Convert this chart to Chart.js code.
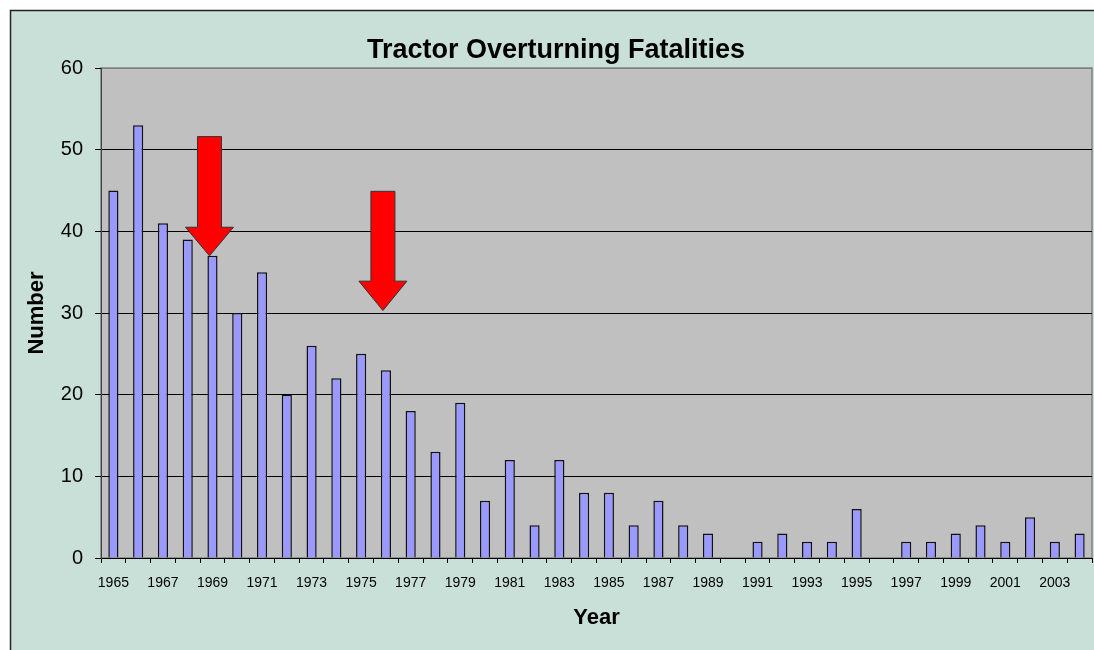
<!DOCTYPE html>
<html>
<head>
<meta charset="utf-8">
<script src="https://cdn.jsdelivr.net/npm/chart.js@4/dist/chart.umd.min.js"></script>
<style>
  html, body { margin: 0; padding: 0; background: #ffffff; }
  #wrap { width: 1094px; height: 650px; position: relative; }
</style>
</head>
<body>
<div id="wrap"><canvas id="c" width="1094" height="650"></canvas></div>
<script>
// ---- data ----
const years = [];
for (let y = 1965; y <= 2004; y++) years.push(String(y));
const fatalities = [45, 53, 41, 39, 37, 30, 35, 20, 26, 22, 25, 23, 18, 13, 19, 7, 12, 4, 12, 8,
                    8, 4, 7, 4, 3, 0, 2, 3, 2, 2, 6, 0, 2, 2, 3, 4, 2, 5, 2, 3];
const yTicks = [0, 10, 20, 30, 40, 50, 60];
// annotation arrows (data coordinates): year, tail value, head start value, tip value
const arrowYears = ['1969', '1976'];
const arrowTails = [51.6, 44.9];
const arrowHeadStarts = [40.5, 33.9];
const arrowTips = [37.0, 30.3];

const FONT = 'Arial, "Liberation Sans", sans-serif';

const backgroundPlugin = {
  id: 'bgPlugin',
  beforeDraw(chart) {
    const ctx = chart.ctx;
    const W = chart.width, H = chart.height;
    ctx.save();
    ctx.fillStyle = '#ffffff';
    ctx.fillRect(0, 0, W, H);
    ctx.fillStyle = '#c8e0d8';
    ctx.fillRect(10, 10, W - 10, H - 10);
    ctx.strokeStyle = '#222222';
    ctx.lineWidth = 1.5;
    ctx.beginPath();
    ctx.moveTo(10.5, H);
    ctx.lineTo(10.5, 10.5);
    ctx.lineTo(W, 10.5);
    ctx.stroke();
    const a = chart.chartArea;
    ctx.fillStyle = '#c0c0c0';
    ctx.fillRect(a.left, a.top, a.right - a.left, a.bottom - a.top);
    ctx.strokeStyle = '#808080';
    ctx.lineWidth = 1.5;
    ctx.strokeRect(a.left, a.top, a.right - a.left, a.bottom - a.top);
    ctx.restore();
  }
};

const arrowPlugin = {
  id: 'arrowPlugin',
  afterDatasetsDraw(chart) {
    const ctx = chart.ctx;
    const xs = chart.scales.x, ys = chart.scales.y;
    ctx.save();
    for (let i = 0; i < arrowYears.length; i++) {
      const cx = xs.getPixelForValue(arrowYears[i]) - 3;
      const yTail = ys.getPixelForValue(arrowTails[i]);
      const yHead = ys.getPixelForValue(arrowHeadStarts[i]);
      const yTip = ys.getPixelForValue(arrowTips[i]);
      const sw = 12, hw = 24;
      ctx.beginPath();
      ctx.moveTo(cx - sw, yTail);
      ctx.lineTo(cx + sw, yTail);
      ctx.lineTo(cx + sw, yHead);
      ctx.lineTo(cx + hw, yHead);
      ctx.lineTo(cx, yTip);
      ctx.lineTo(cx - hw, yHead);
      ctx.lineTo(cx - sw, yHead);
      ctx.closePath();
      ctx.fillStyle = '#ff0000';
      ctx.fill();
      ctx.strokeStyle = '#333333';
      ctx.lineWidth = 1;
      ctx.stroke();
    }
    ctx.restore();
  }
};

new Chart(document.getElementById('c'), {
  type: 'bar',
  data: {
    labels: years,
    datasets: [{
      label: 'Fatalities',
      data: fatalities,
      backgroundColor: '#9999ff',
      borderColor: '#111111',
      borderWidth: 1.5,
      categoryPercentage: 1.0,
      barPercentage: 0.41
    }]
  },
  options: {
    responsive: false,
    animation: false,
    devicePixelRatio: 1,
    layout: { padding: { left: 20, right: 2, top: 0, bottom: 0 } },
    plugins: {
      legend: { display: false },
      tooltip: { enabled: false },
      title: {
        display: true,
        text: 'Tractor Overturning Fatalities',
        color: '#000000',
        font: { family: FONT, size: 27, weight: 'bold' },
        padding: { top: 34, bottom: 1.6 }
      }
    },
    scales: {
      x: {
        offset: true,
        grid: {
          offset: true,
          drawOnChartArea: false,
          drawTicks: true,
          tickLength: 5,
          tickColor: '#000000',
          tickWidth: 1
        },
        border: { display: true, color: '#000000', width: 1 },
        ticks: {
          autoSkip: false,
          maxRotation: 0,
          minRotation: 0,
          padding: 12,
          color: '#000000',
          font: { family: FONT, size: 14 },
          callback: function (v, i) { return i % 2 === 0 ? years[i] : ''; }
        },
        title: {
          display: true,
          text: 'Year',
          color: '#000000',
          font: { family: FONT, size: 22, weight: 'bold' },
          padding: { top: 0, bottom: 19 }
        },
        afterFit(scale) { scale.height = 92; }
      },
      y: {
        min: 0,
        max: 60,
        afterBuildTicks(scale) { scale.ticks = yTicks.map(v => ({ value: v })); },
        grid: {
          color: (ctx) => (ctx.tick && ctx.tick.value === 60) ? '#808080' : '#000000',
          lineWidth: 1,
          drawTicks: true,
          tickLength: 6,
          tickColor: '#000000'
        },
        border: { display: true, color: '#404040', width: 1 },
        ticks: {
          padding: 12,
          color: '#000000',
          font: { family: FONT, size: 20 }
        },
        title: {
          display: true,
          text: 'Number',
          color: '#000000',
          font: { family: FONT, size: 22, weight: 'bold' },
          padding: { top: 4, bottom: 0 }
        },
        afterFit(scale) { scale.width = 81; }
      }
    }
  },
  plugins: [backgroundPlugin, arrowPlugin]
});
</script>
</body>
</html>
